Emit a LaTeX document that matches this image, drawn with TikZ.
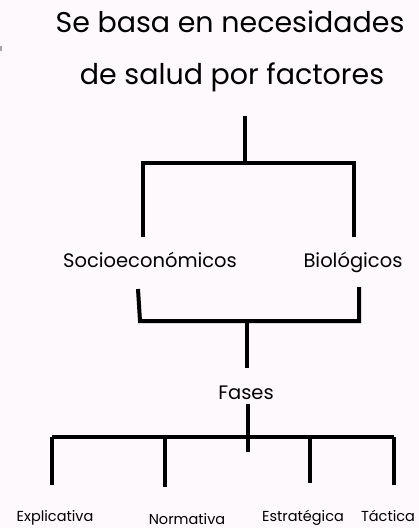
\documentclass[tikz,border=0pt]{standalone}
\usepackage{fontspec}
\setmainfont{Poppins}
\definecolor{bgpink}{RGB}{254,249,252}
\begin{document}
\begin{tikzpicture}[x=1pt,y=-1pt,
  lbl/.style={inner sep=0pt, anchor=base, text=black},
  big/.style={lbl, font=\fontsize{28.5}{30}\selectfont},
  mid/.style={lbl, font=\fontsize{19.5}{21}\selectfont},
  small/.style={lbl, font=\fontsize{14.5}{16}\selectfont},
  bar/.style={line width=4pt, black}]
\fill[bgpink] (0,0) rectangle (419,528);
\useasboundingbox (0,0) rectangle (419,528);
\fill[gray!70] (0,46) rectangle (1.5,51);
% texts
\node[big] (t1) at (230,32) {Se basa en necesidades};
\node[big] (t2) at (232,84) {de salud por factores};
\node[mid] (soc) at (150,267) {Socioeconómicos};
\node[mid] (bio) at (353,267) {Biológicos};
\node[mid] (fas) at (246,399) {Fases};
\node[small] (exp) at (55,521) {Explicativa};
\node[small] (nor) at (187,524) {Normativa};
\node[small] (est) at (303,521) {Estratégica};
\node[small] (tac) at (388,521) {Táctica};
% junction coordinates
\coordinate (a0) at (245,116);
\coordinate (a1) at (245,163);
\coordinate (aL) at (143,237);
\coordinate (aR) at (354,237);
\coordinate (b0) at (138,289);
\coordinate (b1) at (359,287);
\coordinate (bc) at (247,321);
\coordinate (bd) at (247,368);
\coordinate (c0) at (248,404);
\coordinate (c1) at (248,452);
% top bracket
\draw[bar] (a0) -- (a1);
\draw[bar] (aL) -- (aL |- a1) -- (aR |- a1) -- (aR);
% middle bracket
\draw[bar] (b0) -- (140,321) -- (359,321) -- (b1);
\draw[bar] (bc) -- (bd);
% bottom bracket
\draw[bar] (c0) -- (c1);
\draw[bar] (52,437) -- (394,437);
\draw[bar] (52,437) -- (52,485);
\draw[bar] (165,437) -- (165,487);
\draw[bar] (310,435) -- (310,483);
\draw[bar] (394,437) -- (394,485);
\end{tikzpicture}
\end{document}
